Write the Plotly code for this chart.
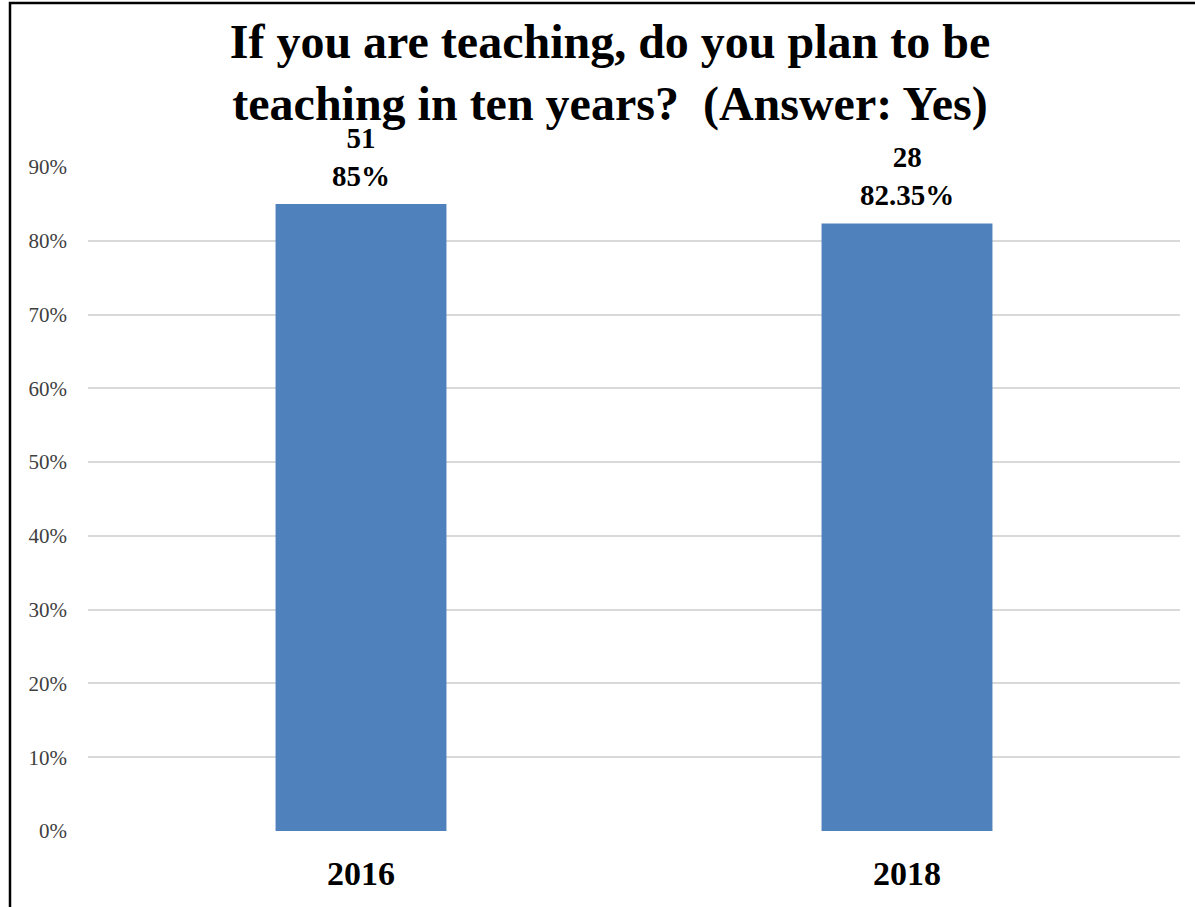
import plotly.graph_objects as go

categories = ["2016", "2018"]
shares = [0.85, 0.8235]
counts = [51, 28]
share_labels = ["85%", "82.35%"]
y_ticks = [0, 0.1, 0.2, 0.3, 0.4, 0.5, 0.6, 0.7, 0.8, 0.9]
y_tick_labels = ["0%", "10%", "20%", "30%", "40%", "50%", "60%", "70%", "80%", "90%"]

W, H = 1195, 907
ML, MR, MT, MB = 88, 15, 167, 76
pw, ph = W - ML - MR, H - MT - MB

fig = go.Figure()
fig.add_trace(go.Bar(
    x=categories, y=shares,
    marker=dict(color="#4F81BD", line=dict(width=0)),
    width=0.313,
    hoverinfo="skip",
))

for i, (v, n, s) in enumerate(zip(shares, counts, share_labels)):
    fig.add_annotation(
        x=i, y=v, xref="x", yref="y",
        text=f"<b>{n}<br>{s}</b>", showarrow=False,
        yanchor="bottom", yshift=10,
        font=dict(family="Liberation Serif", size=29, color="#000000"),
    )

fig.update_layout(
    width=W, height=H,
    margin=dict(l=ML, r=MR, t=MT, b=MB),
    paper_bgcolor="white", plot_bgcolor="white",
    showlegend=False,
    title=dict(
        text="<b>If you are teaching, do you plan to be<br>teaching in ten years?  (Answer: Yes)</b>",
        x=610 / W, xref="container", xanchor="center",
        y=1 - 58 / H, yref="container", yanchor="top",
        font=dict(family="Liberation Serif", size=48, color="#000000"),
    ),
    xaxis=dict(
        type="category", range=[-0.5, len(categories) - 0.5],
        showgrid=False, zeroline=False, showline=False, ticks="",
        ticklabelstandoff=19,
        tickfont=dict(family="Liberation Serif", size=34, color="#000000"),
        tickprefix="<b>", ticksuffix="</b>",
    ),
    yaxis=dict(
        range=[0, 0.9], tickvals=y_ticks, ticktext=y_tick_labels,
        showgrid=True, gridcolor="#d9d9d9", gridwidth=1.5,
        zeroline=False, showline=False, ticks="",
        ticklabelstandoff=20,
        tickfont=dict(family="Liberation Serif", size=21, color="#404040"),
    ),
    shapes=[dict(
        type="rect", xref="paper", yref="paper",
        x0=(10 - ML) / pw, x1=(W + 5 - ML) / pw,
        y0=(MB - H - 5) / ph, y1=(H - MB - 3) / ph,
        line=dict(color="#000000", width=2.5), fillcolor="rgba(0,0,0,0)",
        layer="above",
    )],
)

fig.write_html(
    "out.html",
    config={"displayModeBar": False},
    post_script="document.body.style.margin='0';",
)
